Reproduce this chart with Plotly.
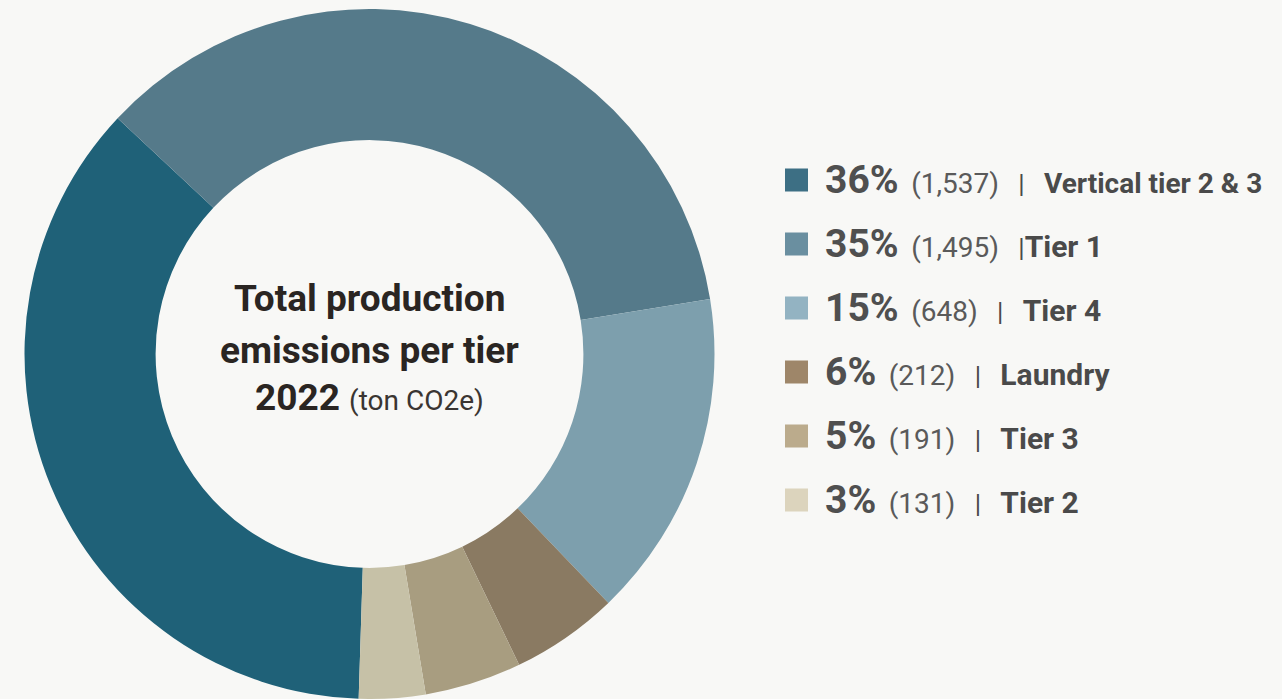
import plotly.graph_objects as go

# Data
labels = ["Vertical tier 2 & 3", "Tier 1", "Tier 4", "Laundry", "Tier 3", "Tier 2"]
values = [1537, 1495, 648, 212, 191, 131]
pct_text = ["36%", "35%", "15%", "6%", "5%", "3%"]
val_text = ["(1,537)", "(1,495)", "(648)", "(212)", "(191)", "(131)"]
label_sizes = [28, 30, 30, 30, 30, 30]
slice_colors = ["#1f6178", "#557a8a", "#7d9fad", "#8a7a62", "#a89d80", "#c6c1a7"]
swatch_colors = ["#3d6f84", "#6a8fa0", "#93b3c2", "#9e8669", "#bbab8c", "#dcd4bd"]

W, H = 1282, 699
BG = "#f8f8f6"
FONT = "Roboto"

fig = go.Figure()
fig.add_trace(go.Pie(
    labels=labels,
    values=values,
    hole=0.62,
    sort=False,
    direction="clockwise",
    rotation=181.8,
    marker=dict(colors=slice_colors, line=dict(width=0)),
    textinfo="none",
    hoverinfo="label+value+percent",
    showlegend=False,
    domain=dict(x=[24.5 / W, 714.5 / W], y=[0, 690 / H]),
))

annotations = []
# Center title lines
center_x = 369.5 / W
center_lines = [
    ("<b>Total production</b>", 298),
    ("<b>emissions per tier</b>", 350),
    ("<b>2022</b> <span style='font-size:28px;color:#3a3532'>(ton CO2e)</span>", 397),
]
for txt, ypx in center_lines:
    annotations.append(dict(
        x=center_x, y=1 - ypx / H, xref="paper", yref="paper",
        text=txt, showarrow=False, xanchor="center", yanchor="middle",
        font=dict(family=FONT, size=37, color="#2a2522"),
    ))

# Custom legend
row_y = [180, 244, 308, 372, 436, 500]
shapes = []
for i, lab in enumerate(labels):
    yc = row_y[i]
    shapes.append(dict(
        type="rect", xref="paper", yref="paper",
        x0=785 / W, x1=808 / W, y0=1 - (yc + 11.5) / H, y1=1 - (yc - 11.5) / H,
        fillcolor=swatch_colors[i], line=dict(width=0),
    ))
    sep = ("&nbsp;&nbsp;&nbsp;|" if lab == "Tier 1"
           else "&nbsp;&nbsp;&nbsp;|&nbsp;&nbsp;&nbsp;")
    txt = (f"<b>{pct_text[i]}</b>&nbsp;"
           f"<span style='font-size:28px;color:#5a5a5a'>&#8202;{val_text[i]}</span>"
           f"<span style='font-size:26px;color:#4a4a4a'>{sep}</span>"
           f"<span style='font-size:{label_sizes[i]}px;color:#4a4a4a'><b>{lab}</b></span>")
    annotations.append(dict(
        x=823 / W, y=1 - yc / H, xref="paper", yref="paper",
        text=txt, showarrow=False, xanchor="left", yanchor="middle",
        font=dict(family=FONT, size=39, color="#4f4f4f"),
    ))

fig.update_layout(
    width=W, height=H,
    margin=dict(l=0, r=0, t=0, b=0),
    paper_bgcolor=BG, plot_bgcolor=BG,
    annotations=annotations, shapes=shapes,
)

fig.write_html("out.html", config={"displayModeBar": False},
               post_script="document.body.style.margin='0';")
